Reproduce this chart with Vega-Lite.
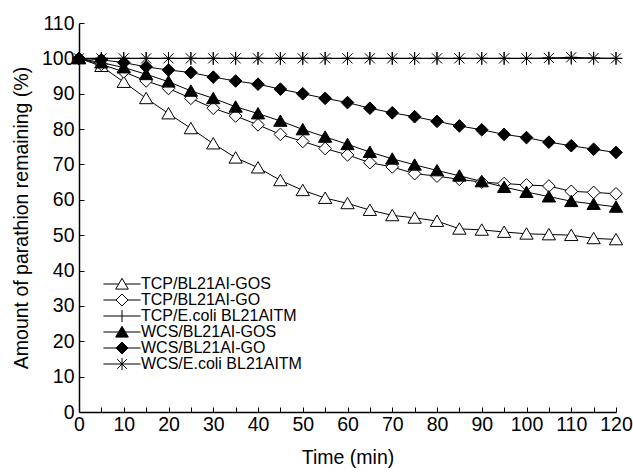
{
  "$schema": "https://vega.github.io/schema/vega-lite/v6.json",
  "width": 537,
  "height": 389,
  "autosize": {"type": "none"},
  "padding": {"left": 79, "top": 23, "right": 17, "bottom": 60},
  "background": "white",
  "config": {
    "font": "Liberation Sans",
    "view": {"stroke": null},
    "axis": {
      "grid": false,
      "domainColor": "black",
      "domainWidth": 1.5,
      "tickColor": "black",
      "tickWidth": 1,
      "tickSize": -5,
      "labelColor": "black",
      "labelFont": "Liberation Sans",
      "labelFontSize": 19.5,
      "titleColor": "black",
      "titleFont": "Liberation Sans",
      "titleFontSize": 19.5,
      "titleFontWeight": "normal"
    }
  },
  "data": {
    "values": [
      {"s": "TCP/BL21AI-GOS", "t": 0, "v": 100}, {"s": "TCP/BL21AI-GOS", "t": 5, "v": 97.8}, {"s": "TCP/BL21AI-GOS", "t": 10, "v": 93.3}, {"s": "TCP/BL21AI-GOS", "t": 15, "v": 88.7}, {"s": "TCP/BL21AI-GOS", "t": 20, "v": 84.4}, {"s": "TCP/BL21AI-GOS", "t": 25, "v": 80.2}, {"s": "TCP/BL21AI-GOS", "t": 30, "v": 75.9}, {"s": "TCP/BL21AI-GOS", "t": 35, "v": 71.9}, {"s": "TCP/BL21AI-GOS", "t": 40, "v": 69.1}, {"s": "TCP/BL21AI-GOS", "t": 45, "v": 65.5}, {"s": "TCP/BL21AI-GOS", "t": 50, "v": 62.7}, {"s": "TCP/BL21AI-GOS", "t": 55, "v": 60.5}, {"s": "TCP/BL21AI-GOS", "t": 60, "v": 59.0}, {"s": "TCP/BL21AI-GOS", "t": 65, "v": 57.1}, {"s": "TCP/BL21AI-GOS", "t": 70, "v": 55.6}, {"s": "TCP/BL21AI-GOS", "t": 75, "v": 54.9}, {"s": "TCP/BL21AI-GOS", "t": 80, "v": 54.0}, {"s": "TCP/BL21AI-GOS", "t": 85, "v": 51.8}, {"s": "TCP/BL21AI-GOS", "t": 90, "v": 51.5}, {"s": "TCP/BL21AI-GOS", "t": 95, "v": 50.9}, {"s": "TCP/BL21AI-GOS", "t": 100, "v": 50.4}, {"s": "TCP/BL21AI-GOS", "t": 105, "v": 50.2}, {"s": "TCP/BL21AI-GOS", "t": 110, "v": 50.0}, {"s": "TCP/BL21AI-GOS", "t": 115, "v": 49.1}, {"s": "TCP/BL21AI-GOS", "t": 120, "v": 48.8},
      {"s": "TCP/BL21AI-GO", "t": 0, "v": 100}, {"s": "TCP/BL21AI-GO", "t": 5, "v": 98.3}, {"s": "TCP/BL21AI-GO", "t": 10, "v": 96.2}, {"s": "TCP/BL21AI-GO", "t": 15, "v": 93.6}, {"s": "TCP/BL21AI-GO", "t": 20, "v": 91.5}, {"s": "TCP/BL21AI-GO", "t": 25, "v": 88.7}, {"s": "TCP/BL21AI-GO", "t": 30, "v": 85.9}, {"s": "TCP/BL21AI-GO", "t": 35, "v": 83.7}, {"s": "TCP/BL21AI-GO", "t": 40, "v": 81.2}, {"s": "TCP/BL21AI-GO", "t": 45, "v": 78.5}, {"s": "TCP/BL21AI-GO", "t": 50, "v": 76.5}, {"s": "TCP/BL21AI-GO", "t": 55, "v": 74.5}, {"s": "TCP/BL21AI-GO", "t": 60, "v": 72.7}, {"s": "TCP/BL21AI-GO", "t": 65, "v": 70.5}, {"s": "TCP/BL21AI-GO", "t": 70, "v": 69.3}, {"s": "TCP/BL21AI-GO", "t": 75, "v": 67.4}, {"s": "TCP/BL21AI-GO", "t": 80, "v": 66.7}, {"s": "TCP/BL21AI-GO", "t": 85, "v": 65.8}, {"s": "TCP/BL21AI-GO", "t": 90, "v": 65.0}, {"s": "TCP/BL21AI-GO", "t": 95, "v": 64.6}, {"s": "TCP/BL21AI-GO", "t": 100, "v": 64.2}, {"s": "TCP/BL21AI-GO", "t": 105, "v": 63.9}, {"s": "TCP/BL21AI-GO", "t": 110, "v": 62.4}, {"s": "TCP/BL21AI-GO", "t": 115, "v": 62.1}, {"s": "TCP/BL21AI-GO", "t": 120, "v": 61.7},
      {"s": "TCP/E.coli BL21AITM", "t": 0, "v": 100}, {"s": "TCP/E.coli BL21AITM", "t": 5, "v": 100}, {"s": "TCP/E.coli BL21AITM", "t": 10, "v": 100}, {"s": "TCP/E.coli BL21AITM", "t": 15, "v": 100}, {"s": "TCP/E.coli BL21AITM", "t": 20, "v": 100}, {"s": "TCP/E.coli BL21AITM", "t": 25, "v": 100}, {"s": "TCP/E.coli BL21AITM", "t": 30, "v": 100}, {"s": "TCP/E.coli BL21AITM", "t": 35, "v": 100}, {"s": "TCP/E.coli BL21AITM", "t": 40, "v": 100}, {"s": "TCP/E.coli BL21AITM", "t": 45, "v": 100}, {"s": "TCP/E.coli BL21AITM", "t": 50, "v": 100}, {"s": "TCP/E.coli BL21AITM", "t": 55, "v": 100}, {"s": "TCP/E.coli BL21AITM", "t": 60, "v": 100}, {"s": "TCP/E.coli BL21AITM", "t": 65, "v": 100}, {"s": "TCP/E.coli BL21AITM", "t": 70, "v": 100}, {"s": "TCP/E.coli BL21AITM", "t": 75, "v": 100}, {"s": "TCP/E.coli BL21AITM", "t": 80, "v": 100}, {"s": "TCP/E.coli BL21AITM", "t": 85, "v": 100}, {"s": "TCP/E.coli BL21AITM", "t": 90, "v": 100}, {"s": "TCP/E.coli BL21AITM", "t": 95, "v": 100}, {"s": "TCP/E.coli BL21AITM", "t": 100, "v": 100}, {"s": "TCP/E.coli BL21AITM", "t": 105, "v": 100}, {"s": "TCP/E.coli BL21AITM", "t": 110, "v": 100}, {"s": "TCP/E.coli BL21AITM", "t": 115, "v": 100}, {"s": "TCP/E.coli BL21AITM", "t": 120, "v": 100},
      {"s": "WCS/BL21AI-GOS", "t": 0, "v": 100}, {"s": "WCS/BL21AI-GOS", "t": 5, "v": 98.8}, {"s": "WCS/BL21AI-GOS", "t": 10, "v": 97.4}, {"s": "WCS/BL21AI-GOS", "t": 15, "v": 95.5}, {"s": "WCS/BL21AI-GOS", "t": 20, "v": 93.4}, {"s": "WCS/BL21AI-GOS", "t": 25, "v": 90.8}, {"s": "WCS/BL21AI-GOS", "t": 30, "v": 88.7}, {"s": "WCS/BL21AI-GOS", "t": 35, "v": 86.3}, {"s": "WCS/BL21AI-GOS", "t": 40, "v": 84.4}, {"s": "WCS/BL21AI-GOS", "t": 45, "v": 82.3}, {"s": "WCS/BL21AI-GOS", "t": 50, "v": 79.9}, {"s": "WCS/BL21AI-GOS", "t": 55, "v": 77.8}, {"s": "WCS/BL21AI-GOS", "t": 60, "v": 75.7}, {"s": "WCS/BL21AI-GOS", "t": 65, "v": 73.5}, {"s": "WCS/BL21AI-GOS", "t": 70, "v": 71.6}, {"s": "WCS/BL21AI-GOS", "t": 75, "v": 69.9}, {"s": "WCS/BL21AI-GOS", "t": 80, "v": 68.3}, {"s": "WCS/BL21AI-GOS", "t": 85, "v": 66.8}, {"s": "WCS/BL21AI-GOS", "t": 90, "v": 65.2}, {"s": "WCS/BL21AI-GOS", "t": 95, "v": 63.6}, {"s": "WCS/BL21AI-GOS", "t": 100, "v": 62.2}, {"s": "WCS/BL21AI-GOS", "t": 105, "v": 60.9}, {"s": "WCS/BL21AI-GOS", "t": 110, "v": 59.6}, {"s": "WCS/BL21AI-GOS", "t": 115, "v": 58.8}, {"s": "WCS/BL21AI-GOS", "t": 120, "v": 58.0},
      {"s": "WCS/BL21AI-GO", "t": 0, "v": 100}, {"s": "WCS/BL21AI-GO", "t": 5, "v": 99.6}, {"s": "WCS/BL21AI-GO", "t": 10, "v": 98.8}, {"s": "WCS/BL21AI-GO", "t": 15, "v": 97.6}, {"s": "WCS/BL21AI-GO", "t": 20, "v": 96.7}, {"s": "WCS/BL21AI-GO", "t": 25, "v": 96.0}, {"s": "WCS/BL21AI-GO", "t": 30, "v": 94.7}, {"s": "WCS/BL21AI-GO", "t": 35, "v": 93.6}, {"s": "WCS/BL21AI-GO", "t": 40, "v": 92.7}, {"s": "WCS/BL21AI-GO", "t": 45, "v": 91.3}, {"s": "WCS/BL21AI-GO", "t": 50, "v": 90.0}, {"s": "WCS/BL21AI-GO", "t": 55, "v": 88.7}, {"s": "WCS/BL21AI-GO", "t": 60, "v": 87.5}, {"s": "WCS/BL21AI-GO", "t": 65, "v": 85.9}, {"s": "WCS/BL21AI-GO", "t": 70, "v": 84.6}, {"s": "WCS/BL21AI-GO", "t": 75, "v": 83.5}, {"s": "WCS/BL21AI-GO", "t": 80, "v": 82.2}, {"s": "WCS/BL21AI-GO", "t": 85, "v": 80.9}, {"s": "WCS/BL21AI-GO", "t": 90, "v": 79.8}, {"s": "WCS/BL21AI-GO", "t": 95, "v": 78.5}, {"s": "WCS/BL21AI-GO", "t": 100, "v": 77.6}, {"s": "WCS/BL21AI-GO", "t": 105, "v": 76.3}, {"s": "WCS/BL21AI-GO", "t": 110, "v": 75.3}, {"s": "WCS/BL21AI-GO", "t": 115, "v": 74.3}, {"s": "WCS/BL21AI-GO", "t": 120, "v": 73.4},
      {"s": "WCS/E.coli BL21AITM", "t": 0, "v": 100}, {"s": "WCS/E.coli BL21AITM", "t": 5, "v": 100}, {"s": "WCS/E.coli BL21AITM", "t": 10, "v": 100}, {"s": "WCS/E.coli BL21AITM", "t": 15, "v": 100}, {"s": "WCS/E.coli BL21AITM", "t": 20, "v": 100}, {"s": "WCS/E.coli BL21AITM", "t": 25, "v": 100}, {"s": "WCS/E.coli BL21AITM", "t": 30, "v": 100}, {"s": "WCS/E.coli BL21AITM", "t": 35, "v": 100}, {"s": "WCS/E.coli BL21AITM", "t": 40, "v": 100}, {"s": "WCS/E.coli BL21AITM", "t": 45, "v": 100}, {"s": "WCS/E.coli BL21AITM", "t": 50, "v": 100}, {"s": "WCS/E.coli BL21AITM", "t": 55, "v": 100}, {"s": "WCS/E.coli BL21AITM", "t": 60, "v": 100}, {"s": "WCS/E.coli BL21AITM", "t": 65, "v": 100}, {"s": "WCS/E.coli BL21AITM", "t": 70, "v": 100}, {"s": "WCS/E.coli BL21AITM", "t": 75, "v": 100}, {"s": "WCS/E.coli BL21AITM", "t": 80, "v": 100}, {"s": "WCS/E.coli BL21AITM", "t": 85, "v": 100}, {"s": "WCS/E.coli BL21AITM", "t": 90, "v": 100}, {"s": "WCS/E.coli BL21AITM", "t": 95, "v": 100}, {"s": "WCS/E.coli BL21AITM", "t": 100, "v": 100}, {"s": "WCS/E.coli BL21AITM", "t": 105, "v": 100.1}, {"s": "WCS/E.coli BL21AITM", "t": 110, "v": 100.3}, {"s": "WCS/E.coli BL21AITM", "t": 115, "v": 100.1}, {"s": "WCS/E.coli BL21AITM", "t": 120, "v": 100}
    ]
  },
  "encoding": {
    "x": {
      "field": "t", "type": "quantitative",
      "scale": {"domain": [0, 120], "nice": false},
      "axis": {
        "title": "Time (min)",
        "values": [0, 5, 10, 15, 20, 25, 30, 35, 40, 45, 50, 55, 60, 65, 70, 75, 80, 85, 90, 95, 100, 105, 110, 115, 120],
        "labelExpr": "datum.value % 10 == 0 ? datum.label : ''",
        "labelPadding": 8,
        "titlePadding": 15,
        "titleFontWeight": "normal",
        "labelFlush": false
      }
    },
    "y": {
      "field": "v", "type": "quantitative",
      "scale": {"domain": [0, 110], "nice": false},
      "axis": {
        "title": "Amount of parathion remaining (%)",
        "values": [0, 10, 20, 30, 40, 50, 60, 70, 80, 90, 100, 110],
        "labelPadding": 10,
        "titlePadding": 10,
        "titleFontWeight": "normal",
        "labelFlush": false
      }
    }
  },
  "layer": [
    {
      "mark": {"type": "line", "color": "black", "strokeWidth": 1},
      "encoding": {"detail": {"field": "s", "type": "nominal"}}
    },
    {
      "mark": {"type": "point", "stroke": "black", "strokeWidth": 1, "opacity": 1, "size": 160},
      "encoding": {
        "shape": {
          "field": "s", "type": "nominal", "legend": null,
          "scale": {
            "domain": ["TCP/BL21AI-GOS", "TCP/BL21AI-GO", "TCP/E.coli BL21AITM", "WCS/BL21AI-GOS", "WCS/BL21AI-GO", "WCS/E.coli BL21AITM"],
            "range": [
              "M0,-0.95L1.05,0.85L-1.05,0.85Z",
              "M0,-1L1,0L0,1L-1,0Z",
              "M-1,0H1M0,-1V1",
              "M0,-0.95L1.05,0.85L-1.05,0.85Z",
              "M0,-1L1,0L0,1L-1,0Z",
              "M0,-1V1M-0.8,-0.8L0.8,0.8M-0.8,0.8L0.8,-0.8M-1,0H1"
            ]
          }
        },
        "fill": {
          "field": "s", "type": "nominal", "legend": null,
          "scale": {
            "domain": ["TCP/BL21AI-GOS", "TCP/BL21AI-GO", "TCP/E.coli BL21AITM", "WCS/BL21AI-GOS", "WCS/BL21AI-GO", "WCS/E.coli BL21AITM"],
            "range": ["white", "white", "white", "black", "black", "white"]
          }
        }
      }
    },
    {
      "mark": {"type": "point", "stroke": "black", "strokeWidth": 1, "opacity": 0, "size": 144},
      "encoding": {
        "shape": {
          "field": "s", "type": "nominal",
          "scale": {
            "domain": ["TCP/BL21AI-GOS", "TCP/BL21AI-GO", "TCP/E.coli BL21AITM", "WCS/BL21AI-GOS", "WCS/BL21AI-GO", "WCS/E.coli BL21AITM"],
            "range": [
              "M-3.1,0H-0.554M0.554,0H3.1M0,-0.95L1.05,0.85L-1.05,0.85Z",
              "M-3.1,0H-1M1,0H3.1M0,-1L1,0L0,1L-1,0Z",
              "M-3.1,0H3.1M0,-1V1",
              "M-3.1,0H3.1M0,-0.95L1.05,0.85L-1.05,0.85Z",
              "M-3.1,0H3.1M0,-1L1,0L0,1L-1,0Z",
              "M-3.1,0H3.1M0,-1V1M-0.8,-0.8L0.8,0.8M-0.8,0.8L0.8,-0.8"
            ]
          },
          "legend": {
            "title": null,
            "orient": "none",
            "legendX": 35,
            "legendY": 253,
            "padding": 0,
            "rowPadding": 0,
            "labelFontSize": 16,
            "labelFont": "Liberation Sans",
            "labelColor": "black",
            "labelOffset": 11,
            "labelLimit": 400,
            "symbolOpacity": 1,
            "symbolStrokeColor": "black",
            "symbolStrokeWidth": 1,
            "symbolSize": 144,
            "encode": {"symbols": {"update": {"stroke": {"value": "black"}, "strokeWidth": {"value": 1}, "opacity": {"value": 1}, "strokeOpacity": {"value": 1}}}}
          }
        },
        "fill": {
          "field": "s", "type": "nominal",
          "scale": {
            "domain": ["TCP/BL21AI-GOS", "TCP/BL21AI-GO", "TCP/E.coli BL21AITM", "WCS/BL21AI-GOS", "WCS/BL21AI-GO", "WCS/E.coli BL21AITM"],
            "range": ["white", "white", "white", "black", "black", "white"]
          },
          "legend": {
            "title": null,
            "orient": "none",
            "legendX": 35,
            "legendY": 253,
            "padding": 0,
            "rowPadding": 0,
            "labelFontSize": 16,
            "labelFont": "Liberation Sans",
            "labelColor": "black",
            "labelOffset": 11,
            "labelLimit": 400,
            "symbolOpacity": 1,
            "symbolStrokeColor": "black",
            "symbolStrokeWidth": 1,
            "symbolSize": 144,
            "encode": {"symbols": {"update": {"stroke": {"value": "black"}, "strokeWidth": {"value": 1}, "opacity": {"value": 1}, "strokeOpacity": {"value": 1}}}}
          }
        }
      }
    }
  ],
  "resolve": {"scale": {"shape": "independent", "fill": "independent"}}
}
